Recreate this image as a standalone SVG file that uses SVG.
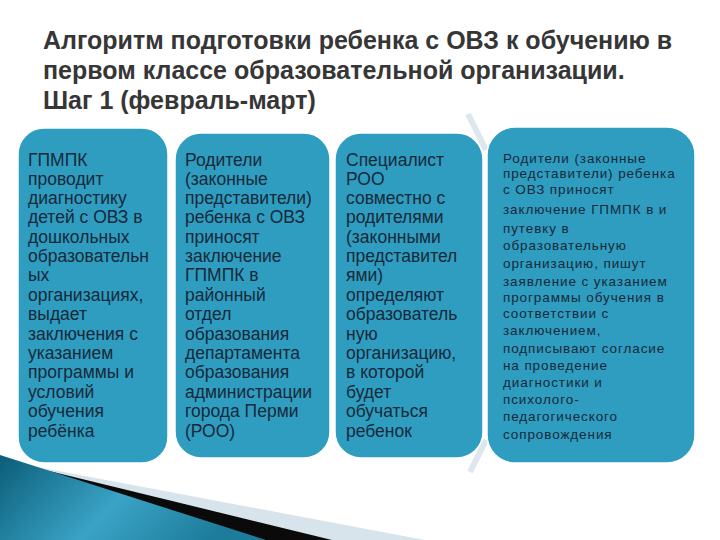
<svg xmlns="http://www.w3.org/2000/svg" width="720" height="540" viewBox="0 0 720 540">
<defs>
<style>
.title{font-family:"Liberation Sans",Arial,sans-serif;font-weight:bold;font-size:25px;fill:#363636}
.box{fill:#2e9dc0;stroke:#ffffff;stroke-width:1.5}
.t{font-family:"Liberation Sans",Arial,sans-serif;font-size:17.5px;fill:#18293a}
.s{font-family:"Liberation Sans",Arial,sans-serif;font-size:13.5px;fill:#18293a;letter-spacing:0.9px}
.chev{fill:none;stroke:#dde7ed;stroke-width:6}
</style>
<linearGradient id="teal" x1="0" y1="0" x2="1" y2="0.3">
<stop offset="0" stop-color="#0b5d78"/>
<stop offset="0.55" stop-color="#3aa3c6"/>
<stop offset="1" stop-color="#1d7c9c"/>
</linearGradient>
</defs>
<rect width="720" height="540" fill="#ffffff"/>
<g id="decor">
<polygon points="0,460 425,540 0,540" fill="#d8e4eb"/>
<polygon points="0,459 332,540 0,540" fill="#0a0a0a"/>
<polygon points="0,455 266,540 0,540" fill="url(#teal)"/>
</g>
<g id="title">
<text class="title" x="43" y="49">Алгоритм подготовки ребенка с ОВЗ к обучению в</text>
<text class="title" x="43" y="79">первом классе образовательной организации.</text>
<text class="title" x="43" y="109">Шаг 1 (февраль-март)</text>
</g>
<g id="connectors">
<polyline class="chev" points="468,114 486,150"/>
<polyline class="chev" points="486,440 470,472"/>
</g>
<g id="node1">
<rect class="box" x="18" y="128" width="150" height="335" rx="26"/>
<text class="t" x="28" y="166">ГПМПК</text>
<text class="t" x="28" y="185">проводит</text>
<text class="t" x="28" y="204">диагностику</text>
<text class="t" x="28" y="223">детей с ОВЗ в</text>
<text class="t" x="28" y="243">дошкольных</text>
<text class="t" x="28" y="262">образовательн</text>
<text class="t" x="28" y="281">ых</text>
<text class="t" x="28" y="301">организациях,</text>
<text class="t" x="28" y="320">выдает</text>
<text class="t" x="28" y="340">заключения с</text>
<text class="t" x="28" y="359">указанием</text>
<text class="t" x="28" y="378">программы и</text>
<text class="t" x="28" y="398">условий</text>
<text class="t" x="28" y="417">обучения</text>
<text class="t" x="28" y="437">ребёнка</text>
</g>
<g id="node2">
<rect class="box" x="175" y="133" width="155" height="325" rx="26"/>
<text class="t" x="185" y="166">Родители</text>
<text class="t" x="185" y="185">(законные</text>
<text class="t" x="185" y="204">представители)</text>
<text class="t" x="185" y="223">ребенка с ОВЗ</text>
<text class="t" x="185" y="243">приносят</text>
<text class="t" x="185" y="262">заключение</text>
<text class="t" x="185" y="281">ГПМПК в</text>
<text class="t" x="185" y="301">районный</text>
<text class="t" x="185" y="320">отдел</text>
<text class="t" x="185" y="340">образования</text>
<text class="t" x="185" y="359">департамента</text>
<text class="t" x="185" y="378">образования</text>
<text class="t" x="185" y="398">администрации</text>
<text class="t" x="185" y="417">города Перми</text>
<text class="t" x="185" y="437">(РОО)</text>
</g>
<g id="node3">
<rect class="box" x="335" y="133" width="148" height="325" rx="26"/>
<text class="t" x="346" y="166">Специалист</text>
<text class="t" x="346" y="185">РОО</text>
<text class="t" x="346" y="204">совместно с</text>
<text class="t" x="346" y="223">родителями</text>
<text class="t" x="346" y="243">(законными</text>
<text class="t" x="346" y="262">представител</text>
<text class="t" x="346" y="281">ями)</text>
<text class="t" x="346" y="301">определяют</text>
<text class="t" x="346" y="320">образователь</text>
<text class="t" x="346" y="340">ную</text>
<text class="t" x="346" y="359">организацию,</text>
<text class="t" x="346" y="378">в которой</text>
<text class="t" x="346" y="398">будет</text>
<text class="t" x="346" y="417">обучаться</text>
<text class="t" x="346" y="437">ребенок</text>
</g>
<g id="node4">
<rect class="box" x="487" y="127" width="208" height="336" rx="28"/>
<text class="s" x="503" y="163">Родители (законные</text>
<text class="s" x="503" y="178">представители) ребенка</text>
<text class="s" x="503" y="194">с ОВЗ приносят</text>
<text class="s" x="503" y="214">заключение ГПМПК в и</text>
<text class="s" x="503" y="233">путевку в</text>
<text class="s" x="503" y="250">образовательную</text>
<text class="s" x="503" y="268">организацию, пишут</text>
<text class="s" x="503" y="286">заявление с указанием</text>
<text class="s" x="503" y="302">программы обучения в</text>
<text class="s" x="503" y="318">соответствии с</text>
<text class="s" x="503" y="335">заключением,</text>
<text class="s" x="503" y="353">подписывают согласие</text>
<text class="s" x="503" y="370">на проведение</text>
<text class="s" x="503" y="387">диагностики и</text>
<text class="s" x="503" y="404">психолого-</text>
<text class="s" x="503" y="421">педагогического</text>
<text class="s" x="503" y="439">сопровождения</text>
</g>
</svg>
